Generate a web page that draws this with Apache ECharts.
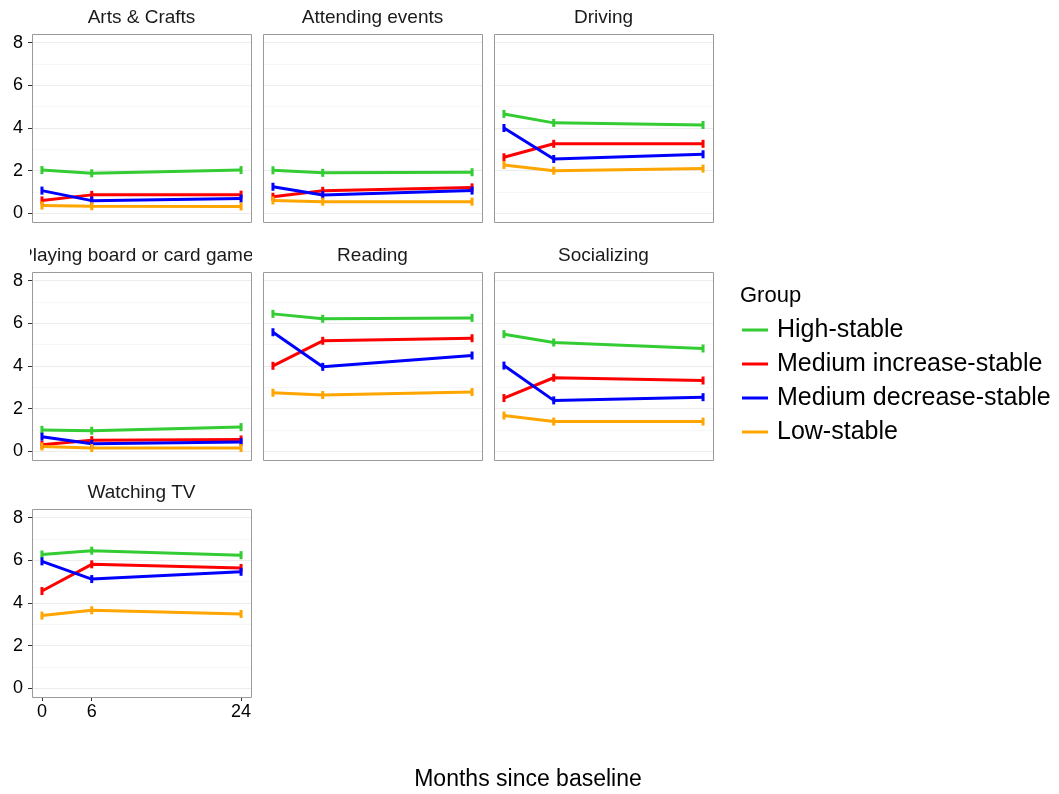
<!DOCTYPE html>
<html>
<head>
<meta charset="utf-8">
<script src="https://cdn.jsdelivr.net/npm/echarts@6/dist/echarts.min.js"></script>
<style>
	html, body { margin: 0; padding: 0; background: #fff; }
	#main { width: 1059px; height: 794px; }
</style>
</head>
<body>
<div id="main"></div>
<script>
	// facets, groups and x positions
	var months = [0, 6, 24];
	var activities = ['Arts & Crafts', 'Attending events', 'Driving', 'Playing board or card games', 'Reading', 'Socializing', 'Watching TV'];
	var groups = ['High-stable', 'Medium increase-stable', 'Medium decrease-stable', 'Low-stable'];
	var yTicks = [0, 2, 4, 6, 8];
	var yMinor = [1, 3, 5, 7];

	// one row per activity, values at 0, 6, 24 months
	var highStable = [[2.03, 1.88, 2.03], [2.02, 1.90, 1.93], [4.66, 4.24, 4.14], [1.01, 0.97, 1.14], [6.44, 6.21, 6.25], [5.49, 5.10, 4.82], [6.27, 6.45, 6.24]];
	var mediumIncrease = [[0.61, 0.87, 0.88], [0.78, 1.06, 1.22], [2.63, 3.26, 3.26], [0.31, 0.53, 0.56], [4.01, 5.18, 5.30], [2.50, 3.45, 3.32], [4.56, 5.81, 5.64]];
	var mediumDecrease = [[1.07, 0.60, 0.70], [1.25, 0.86, 1.07], [4.00, 2.55, 2.77], [0.69, 0.36, 0.44], [5.58, 3.96, 4.49], [4.02, 2.39, 2.54], [5.95, 5.12, 5.46]];
	var lowStable = [[0.37, 0.34, 0.33], [0.61, 0.55, 0.55], [2.27, 2.00, 2.10], [0.23, 0.16, 0.16], [2.75, 2.64, 2.78], [1.68, 1.40, 1.40], [3.41, 3.66, 3.49]];

	var groupData = [highStable, mediumIncrease, mediumDecrease, lowStable];
	var groupColors = ['#33cc33', '#ff0000', '#0000ff', '#ffa500'];

	var fontFamily = '"Liberation Sans", Arial, sans-serif';
	var colLeft = [32, 263, 494];
	var rowTop = [34, 272, 509];
	var panelW = 219,
		panelH = 188;

	var myChart = echarts.init(document.getElementById('main'));

	var grids = [],
		xAxes = [],
		yAxes = [],
		series = [],
		graphics = [];

	activities.forEach(function(name, i) {
		var col = i % 3,
			row = Math.floor(i / 3);
		var isBottom = i === activities.length - 1;

		grids.push({
			left: colLeft[col],
			top: rowTop[row],
			width: panelW,
			height: panelH,
			show: false
		});

		xAxes.push({
			gridIndex: i,
			type: 'value',
			min: -1.2,
			max: 25.2,
			show: isBottom,
			axisLine: { show: false, onZero: false },
			splitLine: { show: false },
			axisTick: {
				show: true,
				customValues: months,
				length: 4,
				lineStyle: { color: '#333' }
			},
			axisLabel: {
				customValues: months,
				margin: 6,
				fontSize: 18,
				color: '#000',
				fontFamily: fontFamily
			}
		});

		// minor grid lines
		yAxes.push({
			gridIndex: i,
			type: 'value',
			position: 'left',
			min: -0.4,
			max: 8.4,
			axisLine: { show: false, onZero: false },
			axisTick: { show: false, customValues: yMinor },
			axisLabel: { show: false },
			splitLine: {
				show: true,
				lineStyle: { color: '#f7f7f7', width: 1 }
			}
		});

		// major grid, ticks and labels (labels in first column only)
		yAxes.push({
			gridIndex: i,
			type: 'value',
			position: 'left',
			min: -0.4,
			max: 8.4,
			axisLine: { show: false, onZero: false },
			splitLine: {
				show: true,
				lineStyle: { color: '#ececec', width: 1 }
			},
			axisTick: {
				show: col === 0,
				customValues: yTicks,
				length: 4,
				lineStyle: { color: '#333' }
			},
			axisLabel: {
				show: col === 0,
				customValues: yTicks,
				margin: 9,
				fontSize: 18,
				color: '#000',
				fontFamily: fontFamily
			}
		});

		groups.forEach(function(g, k) {
			series.push({
				name: g,
				type: 'line',
				xAxisIndex: i,
				yAxisIndex: i * 2 + 1,
				data: months.map(function(m, j) {
					return [m, groupData[k][i][j]];
				}),
				symbol: 'rect',
				symbolSize: [3, 8],
				showSymbol: true,
				animation: false,
				lineStyle: { color: groupColors[k], width: 3 },
				itemStyle: { color: groupColors[k] },
				emphasis: { disabled: true }
			});
		});

		// panel border on top of grid lines
		graphics.push({
			type: 'rect',
			z: 100,
			shape: { x: colLeft[col] + 0.5, y: rowTop[row] + 0.5, width: panelW, height: panelH },
			style: { fill: null, stroke: '#9a9a9a', lineWidth: 1 },
			silent: true
		});

		graphics.push({
			type: 'text',
			z: 10,
			x: colLeft[col] + panelW / 2,
			y: rowTop[row] - 16,
			style: {
				text: name,
				align: 'center',
				verticalAlign: 'middle',
				font: '19px ' + fontFamily,
				fill: '#1a1a1a'
			}
		});
	});

	// strip text that is too wide gets cut at the strip edges
	graphics.push({
		type: 'rect',
		z: 20,
		shape: { x: 0, y: rowTop[1] - 30, width: colLeft[0] - 2, height: 28 },
		style: { fill: '#fff' },
		silent: true
	});
	graphics.push({
		type: 'rect',
		z: 20,
		shape: { x: colLeft[0] + panelW + 1, y: rowTop[1] - 30, width: colLeft[1] - colLeft[0] - panelW, height: 28 },
		style: { fill: '#fff' },
		silent: true
	});

	graphics.push({
		type: 'text',
		x: 528,
		y: 780,
		style: {
			text: 'Months since baseline',
			align: 'center',
			verticalAlign: 'middle',
			font: '23px ' + fontFamily,
			fill: '#000'
		}
	});

	graphics.push({
		type: 'text',
		x: 740,
		y: 296,
		style: {
			text: 'Group',
			align: 'left',
			verticalAlign: 'middle',
			font: '22px ' + fontFamily,
			fill: '#000'
		}
	});

	var option = {
		backgroundColor: '#fff',
		animation: false,
		grid: grids,
		xAxis: xAxes,
		yAxis: yAxes,
		legend: {
			orient: 'vertical',
			left: 737,
			top: 311,
			icon: 'rect',
			itemWidth: 26,
			itemHeight: 3,
			itemGap: 6,
			selectedMode: false,
			data: groups,
			textStyle: {
				fontSize: 25,
				lineHeight: 28,
				color: '#000',
				fontFamily: fontFamily,
				padding: [0, 0, 0, 4]
			}
		},
		graphic: graphics,
		series: series
	};

	myChart.setOption(option);
</script>
</body>
</html>
